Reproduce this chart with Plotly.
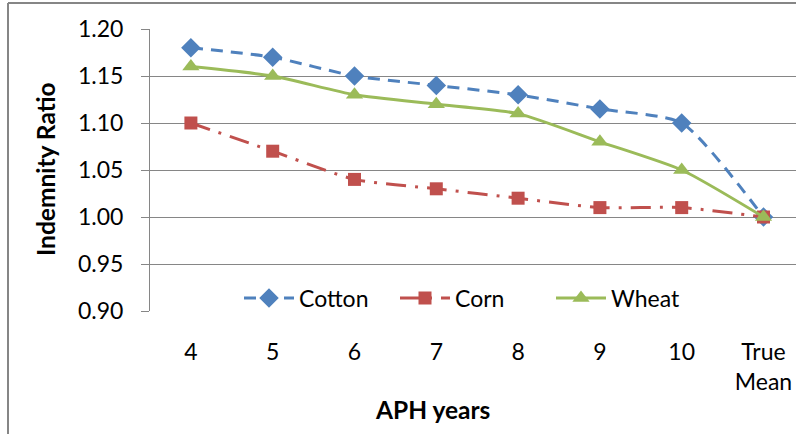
import plotly.graph_objects as go

categories = ["4", "5", "6", "7", "8", "9", "10", "True<br>Mean"]
cotton = [1.18, 1.17, 1.15, 1.14, 1.13, 1.115, 1.10, 1.00]
corn = [1.10, 1.07, 1.04, 1.03, 1.02, 1.01, 1.01, 1.00]
wheat = [1.16, 1.15, 1.13, 1.12, 1.11, 1.08, 1.05, 1.00]
y_ticks = [0.90, 0.95, 1.00, 1.05, 1.10, 1.15, 1.20]

W, H = 796, 434
L, R, T, B = 150, 0, 29, 123
pw, ph = W - L - R, H - T - B
def px_x(p):
    return (p - L) / pw
def px_y(p):
    return (H - B - p) / ph

grid = "#868686"
font = "Lato, Carlito, Calibri, sans-serif"
xs = list(range(len(categories)))

fig = go.Figure()
fig.add_trace(go.Scatter(
    x=xs, y=cotton, name="Cotton", mode="lines+markers",
    line=dict(color="#4F81BD", width=3, dash="12px,8px", shape="spline", smoothing=0.6),
    marker=dict(symbol="diamond", size=15, color="#4F81BD"), cliponaxis=False))
fig.add_trace(go.Scatter(
    x=xs, y=corn, name="Corn", mode="lines+markers",
    line=dict(color="#C0504D", width=3, dash="20px,9px,3px,9px", shape="spline", smoothing=0.6),
    marker=dict(symbol="square", size=13, color="#C0504D"), cliponaxis=False))
fig.add_trace(go.Scatter(
    x=xs, y=wheat, name="Wheat", mode="lines+markers",
    line=dict(color="#9BBB59", width=3, shape="spline", smoothing=0.6),
    marker=dict(symbol="triangle-up", size=15, color="#9BBB59"), cliponaxis=False))

fig.update_layout(
    width=W, height=H,
    margin=dict(l=L, r=R, t=T, b=B),
    paper_bgcolor="white", plot_bgcolor="white",
    font=dict(family=font, size=23, color="black"),
    showlegend=True,
    legend=dict(orientation="h", x=px_x(473), y=px_y(298), xanchor="center", yanchor="middle",
                bgcolor="rgba(0,0,0,0)", font=dict(size=23), itemwidth=50,
                entrywidth=91, entrywidthmode="pixels", tracegroupgap=0),
    xaxis=dict(
        range=[-0.5, -0.5 + pw / 81.8], tickmode="array", tickvals=xs, ticktext=categories,
        showgrid=False, zeroline=False, showline=False, ticks="",
        ticklabelstandoff=25, tickfont=dict(size=23)),
    yaxis=dict(
        range=[0.90, 1.20], tickmode="array", tickvals=y_ticks,
        ticktext=[f"{v:.2f}" for v in y_ticks],
        showgrid=True, gridcolor=grid, gridwidth=1, zeroline=False,
        showline=True, linecolor=grid, linewidth=1,
        ticks="outside", ticklen=8, tickcolor=grid, ticklabelstandoff=13,
        tickfont=dict(size=23)),
    annotations=[
        dict(text="<b>Indemnity Ratio</b>", textangle=-90, xref="paper", yref="paper",
             x=px_x(45), y=px_y(170), xanchor="center", yanchor="middle", showarrow=False,
             font=dict(size=24.5)),
        dict(text="<b>APH years</b>", xref="paper", yref="paper",
             x=px_x(432), y=px_y(410), xanchor="center", yanchor="middle", showarrow=False,
             font=dict(size=24.5)),
    ],
    shapes=[
        dict(type="line", xref="paper", yref="paper", x0=px_x(8), x1=px_x(8),
             y0=px_y(3), y1=px_y(440), line=dict(color=grid, width=2)),
        dict(type="line", xref="paper", yref="paper", x0=px_x(8), x1=px_x(800),
             y0=px_y(3), y1=px_y(3), line=dict(color=grid, width=2)),
    ],
)

fig.write_html("out.html")
